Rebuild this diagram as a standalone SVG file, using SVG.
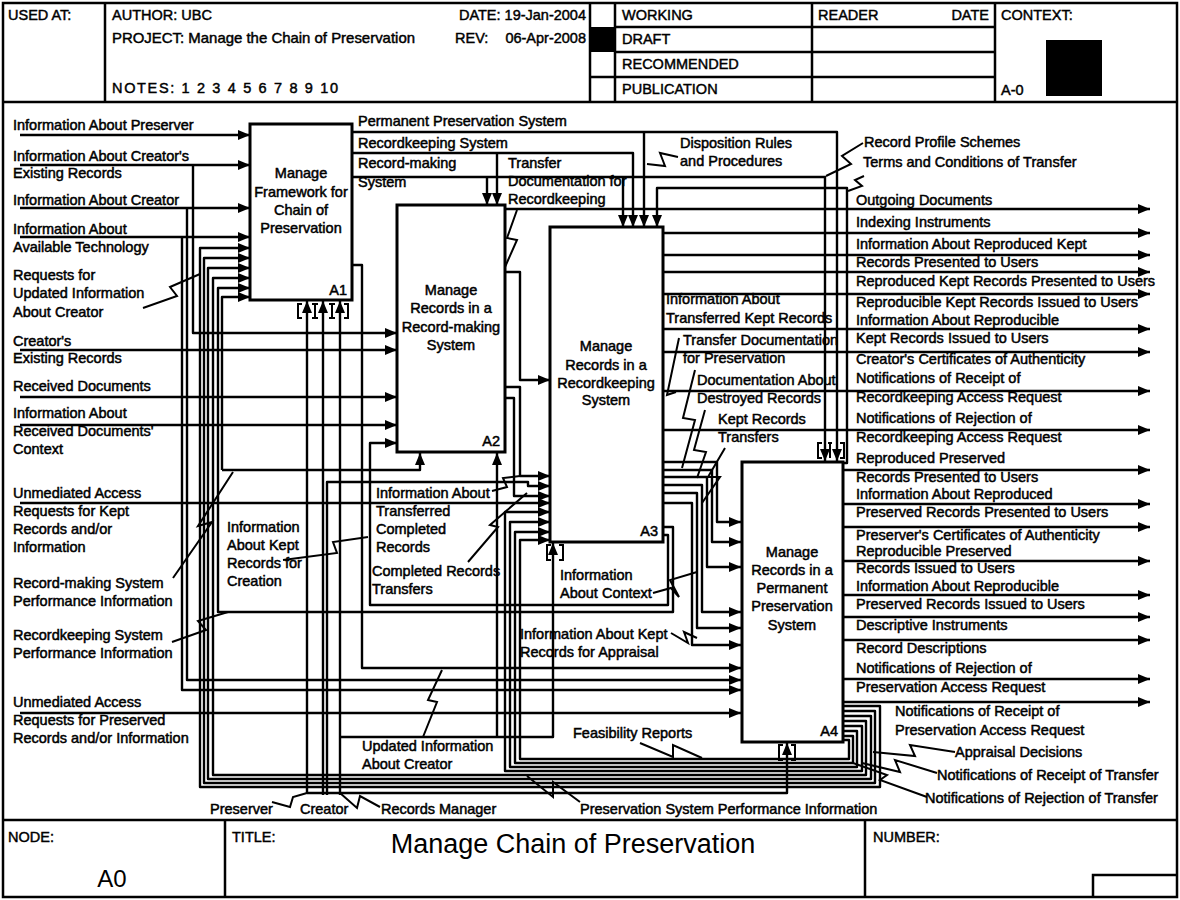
<svg xmlns="http://www.w3.org/2000/svg" width="1180" height="900" viewBox="0 0 1180 900">
<style>
text{font-family:"Liberation Sans",Arial,sans-serif;fill:#000}
.t{font-size:14.5px;stroke:#000;stroke-width:0.5}
.h{font-size:14.5px;stroke:#000;stroke-width:0.45}
.m{text-anchor:middle}
.e{text-anchor:end}
.box{fill:#fff;stroke:#000;stroke-width:3}
.c path{fill:none;stroke:#000;stroke-width:2.4;stroke-linejoin:round}
.c path.a{marker-end:url(#ah)}
.sq path{fill:none;stroke:#000;stroke-width:2}
.br path{fill:none;stroke:#000;stroke-width:2}
.fr{fill:none;stroke:#000;stroke-width:2.5}
</style>
<defs>
<marker id="ah" viewBox="0 0 12 10" refX="12" refY="5" markerWidth="12" markerHeight="10" markerUnits="userSpaceOnUse" orient="auto"><path d="M0,0 L12,5 L0,10 z" fill="#000"/></marker>
</defs>
<rect x="0" y="0" width="1180" height="900" fill="#fff"/>
<g id="frame">
<rect class="fr" x="3" y="3" width="1174" height="894" stroke-width="3"/>
<path class="fr" d="M3,102 H1177 M105,3 V102 M590,3 V102 M615,3 V102 M812,3 V102 M995,3 V102 M615,27 H995 M615,52 H995 M590,77 H995 M3,820 H1177 M225,820 V897 M865,820 V897 M1093,897 V875 H1177"/>
<rect x="591" y="27" width="24" height="25" fill="#000"/>
<rect x="1046" y="40" width="56" height="56" fill="#000"/>
<text class="h" x="8" y="20">USED AT:</text>
<text class="h" x="112" y="20">AUTHOR:  UBC</text>
<text class="h e" x="586" y="20">DATE:  19-Jan-2004</text>
<text class="h" x="112" y="43" textLength="303" lengthAdjust="spacingAndGlyphs">PROJECT:  Manage the Chain of Preservation</text>
<text class="h" x="455" y="43">REV:</text>
<text class="h e" x="586" y="43">06-Apr-2008</text>
<text class="h" x="112" y="93" textLength="226" lengthAdjust="spacing">NOTES:  1 2 3 4 5 6 7 8 9 10</text>
<text class="h" x="622" y="20">WORKING</text>
<text class="h" x="622" y="44">DRAFT</text>
<text class="h" x="622" y="69">RECOMMENDED</text>
<text class="h" x="622" y="94">PUBLICATION</text>
<text class="h" x="818" y="20">READER</text>
<text class="h e" x="989" y="20">DATE</text>
<text class="h" x="1001" y="20">CONTEXT:</text>
<text class="h" x="1001" y="95">A-0</text>
<text class="h" x="8" y="842">NODE:</text>
<text class="h" x="232" y="842">TITLE:</text>
<text class="h" x="873" y="842">NUMBER:</text>
<text class="m" x="573" y="853" font-size="27">Manage Chain of Preservation</text>
<text class="m" x="112" y="887" font-size="24">A0</text>
</g>
<g class="c" id="connectors">
<path class="a" d="M20,135 H250"/>
<path class="a" d="M20,165 H250"/>
<path class="a" d="M193,165 V333 H397"/>
<path class="a" d="M20,208 H250"/>
<path class="a" d="M187,208 V680 H741"/>
<path class="a" d="M20,237 H250"/>
<path class="a" d="M182,237 V690 H741"/>
<path class="a" d="M843,706 H880 V787 H200 V248 H250"/>
<path class="a" d="M843,711 H875 V783 H204 V258 H250"/>
<path class="a" d="M843,716 H871 V779 H208 V268 H250"/>
<path class="a" d="M843,721 H866 V775 H213 V278 H250"/>
<path class="a" d="M843,726 H862 V771 H505 V512 H550"/>
<path class="a" d="M843,731 H857 V767 H510 V522 H550"/>
<path class="a" d="M843,736 H853 V763 H515 V532 H550"/>
<path class="a" d="M843,740 H849 V759 H520 V540 H550"/>
<path class="a" d="M663,527 H673 V612 H218 V288 H250"/>
<path class="a" d="M222,470 V297 H250"/>
<path class="a" d="M222,470 H420 V453"/>
<path class="a" d="M327,795 V482 H528 V486 H550"/>
<path class="a" d="M307,793 V301"/>
<path class="a" d="M307,793 H787 V743"/>
<path class="a" d="M323,795 V301"/>
<path class="a" d="M340,795 V301"/>
<path class="a" d="M340,737 H553 V543"/>
<path class="a" d="M497,737 V453"/>
<path class="a" d="M20,350 H397"/>
<path class="a" d="M20,397 H397"/>
<path class="a" d="M20,425 H397"/>
<path class="a" d="M663,535 H668 V605 H370 V443 H397"/>
<path class="a" d="M352,132 H837 V461"/>
<path class="a" d="M644,132 V227"/>
<path class="a" d="M352,153 H633 V227"/>
<path class="a" d="M497,153 V205"/>
<path class="a" d="M352,177 H825 V461"/>
<path class="a" d="M487,177 V205"/>
<path class="a" d="M623,177 V227"/>
<path class="a" d="M843,463 H847 V188 H657 V227"/>
<path class="a" d="M505,209 H1150"/>
<path class="a" d="M505,272 H520 V380 H550"/>
<path class="a" d="M505,387 H520 V476 H550"/>
<path class="a" d="M505,398 H514 V496 H550"/>
<path class="a" d="M20,503 H550"/>
<path class="a" d="M663,233 H1150"/>
<path class="a" d="M663,255 H1150"/>
<path class="a" d="M663,272 H1150"/>
<path class="a" d="M663,294 H1150"/>
<path class="a" d="M663,329 H1150"/>
<path class="a" d="M663,352 H1150"/>
<path class="a" d="M663,391 H1150"/>
<path class="a" d="M663,430 H1150"/>
<path class="a" d="M663,462 H717 V522 H741"/>
<path class="a" d="M663,470 H712 V542 H741"/>
<path class="a" d="M663,477 H707 V567 H741"/>
<path class="a" d="M663,485 H702 V612 H741"/>
<path class="a" d="M663,493 H697 V628 H741"/>
<path class="a" d="M663,503 H692 V645 H741"/>
<path class="a" d="M352,265 H362 V668 H741"/>
<path class="a" d="M20,713 H741"/>
<path class="a" d="M843,470 H1150"/>
<path class="a" d="M843,504 H1150"/>
<path class="a" d="M843,527 H1150"/>
<path class="a" d="M843,561 H1150"/>
<path class="a" d="M843,595 H1150"/>
<path class="a" d="M843,617 H1150"/>
<path class="a" d="M843,640 H1150"/>
<path class="a" d="M843,679 H1150"/>
<path class="a" d="M843,702 H1150"/>
</g>
<g class="sq" id="squiggles">
<path d="M143,308 L177,296 L170,287 L200,274"/>
<path d="M173,578 L212,522 L198,526 L233,472"/>
<path d="M172,642 L206,630 L198,621 L228,612"/>
<path d="M678,157 L660,153 L665,166 L647,164"/>
<path d="M863,143 L842,156 L851,164 L826,176"/>
<path d="M864,176 L855,180 L862,186 L848,191"/>
<path d="M517,210 L507,238 L517,240 L505,267"/>
<path d="M679,338 L667,395 L676,392"/>
<path d="M695,370 L683,418 L695,420 L682,468"/>
<path d="M705,410 L694,450 L706,452 L697,478"/>
<path d="M725,448 L708,477 L720,477 L702,503"/>
<path d="M492,491 L507,487 L503,478 L520,476"/>
<path d="M468,562 L498,527 L490,525 L527,493"/>
<path d="M283,560 L337,553 L333,542 L368,537"/>
<path d="M653,593 L671,588 L679,597 L670,580 L697,572"/>
<path d="M671,633 L688,643 L684,632 L697,638"/>
<path d="M423,737 L437,702 L428,700 L442,670"/>
<path d="M640,743 L673,757 L673,745 L702,758"/>
<path d="M580,802 L553,782 L553,797 L527,776"/>
<path d="M272,802 L290,807 L293,797 L307,793"/>
<path d="M340,793 L357,808 L360,796 L380,807"/>
<path d="M955,752 L910,745 L915,756 L873,752"/>
<path d="M937,773 L895,760 L900,772 L862,763"/>
<path d="M927,797 L880,780 L887,775 L853,763"/>
</g>
<g class="br" id="tunnels">
<path d="M302,304 H298 V318 H302 M312,304 H318 M315,304 V318 M312,318 H318 M329,304 H335 M332,304 V318 M329,318 H335 M344,304 H348 V318 H344"/>
<path d="M551,545 H547 V560 H551 M559,545 H563 V560 H559"/>
<path d="M783,745 H779 V760 H783 M791,745 H795 V760 H791"/>
<path d="M822,443 H818 V458 H822 M828,443 H832 M830,443 V458 M840,443 H844 V458 H840"/>
</g>
<g id="A1">
<rect class="box" x="250" y="124" width="102" height="176"/>
<text class="t m" x="301" y="178">Manage</text>
<text class="t m" x="301" y="197">Framework for</text>
<text class="t m" x="301" y="215">Chain of</text>
<text class="t m" x="301" y="233">Preservation</text>
<text class="t e" x="347" y="295">A1</text>
</g>
<g id="A2">
<rect class="box" x="397" y="205" width="108" height="247"/>
<text class="t m" x="451" y="295">Manage</text>
<text class="t m" x="451" y="313">Records in a</text>
<text class="t m" x="451" y="332">Record-making</text>
<text class="t m" x="451" y="350">System</text>
<text class="t e" x="500" y="446">A2</text>
</g>
<g id="A3">
<rect class="box" x="550" y="227" width="113" height="315"/>
<text class="t m" x="606" y="351">Manage</text>
<text class="t m" x="606" y="370">Records in a</text>
<text class="t m" x="606" y="388">Recordkeeping</text>
<text class="t m" x="606" y="405">System</text>
<text class="t e" x="658" y="536">A3</text>
</g>
<g id="A4">
<rect class="box" x="742" y="462" width="101" height="280"/>
<text class="t m" x="792" y="557">Manage</text>
<text class="t m" x="792" y="575">Records in a</text>
<text class="t m" x="792" y="593">Permanent</text>
<text class="t m" x="792" y="611">Preservation</text>
<text class="t m" x="792" y="630">System</text>
<text class="t e" x="838" y="736">A4</text>
</g>
<g id="labels">
<text class="t" x="13" y="130">Information About Preserver</text>
<text class="t" x="13" y="161">Information About Creator's</text>
<text class="t" x="13" y="178">Existing Records</text>
<text class="t" x="13" y="205">Information About Creator</text>
<text class="t" x="13" y="234">Information About</text>
<text class="t" x="13" y="252">Available Technology</text>
<text class="t" x="13" y="280">Requests for</text>
<text class="t" x="13" y="298">Updated Information</text>
<text class="t" x="13" y="317">About Creator</text>
<text class="t" x="13" y="346">Creator's</text>
<text class="t" x="13" y="363">Existing Records</text>
<text class="t" x="13" y="391">Received Documents</text>
<text class="t" x="13" y="418">Information About</text>
<text class="t" x="13" y="436">Received Documents'</text>
<text class="t" x="13" y="454">Context</text>
<text class="t" x="13" y="498">Unmediated Access</text>
<text class="t" x="13" y="516">Requests for Kept</text>
<text class="t" x="13" y="534">Records and/or</text>
<text class="t" x="13" y="552">Information</text>
<text class="t" x="13" y="588">Record-making System</text>
<text class="t" x="13" y="606">Performance Information</text>
<text class="t" x="13" y="640">Recordkeeping System</text>
<text class="t" x="13" y="658">Performance Information</text>
<text class="t" x="13" y="707">Unmediated Access</text>
<text class="t" x="13" y="725">Requests for Preserved</text>
<text class="t" x="13" y="743">Records and/or Information</text>
<text class="t" x="358" y="126">Permanent Preservation System</text>
<text class="t" x="358" y="148">Recordkeeping System</text>
<text class="t" x="358" y="168">Record-making</text>
<text class="t" x="358" y="187">System</text>
<text class="t" x="508" y="168">Transfer</text>
<text class="t" x="508" y="186">Documentation for</text>
<text class="t" x="508" y="204">Recordkeeping</text>
<text class="t" x="680" y="148">Disposition Rules</text>
<text class="t" x="680" y="166">and Procedures</text>
<text class="t" x="864" y="147">Record Profile Schemes</text>
<text class="t" x="863" y="167">Terms and Conditions of Transfer</text>
<text class="t" x="856" y="205">Outgoing Documents</text>
<text class="t" x="856" y="227">Indexing Instruments</text>
<text class="t" x="856" y="249">Information About Reproduced Kept</text>
<text class="t" x="856" y="267">Records Presented to Users</text>
<text class="t" x="856" y="286">Reproduced Kept Records Presented to Users</text>
<text class="t" x="856" y="307">Reproducible Kept Records Issued to Users</text>
<text class="t" x="856" y="325">Information About Reproducible</text>
<text class="t" x="856" y="343">Kept Records Issued to Users</text>
<text class="t" x="856" y="364">Creator's Certificates of Authenticity</text>
<text class="t" x="856" y="383">Notifications of Receipt of</text>
<text class="t" x="856" y="402">Recordkeeping Access Request</text>
<text class="t" x="856" y="423">Notifications of Rejection of</text>
<text class="t" x="856" y="442">Recordkeeping Access Request</text>
<text class="t" x="856" y="463">Reproduced Preserved</text>
<text class="t" x="856" y="482">Records Presented to Users</text>
<text class="t" x="856" y="499">Information About Reproduced</text>
<text class="t" x="856" y="517">Preserved Records Presented to Users</text>
<text class="t" x="856" y="540">Preserver's Certificates of Authenticity</text>
<text class="t" x="856" y="556">Reproducible Preserved</text>
<text class="t" x="856" y="573">Records Issued to Users</text>
<text class="t" x="856" y="591">Information About Reproducible</text>
<text class="t" x="856" y="609">Preserved Records Issued to Users</text>
<text class="t" x="856" y="630">Descriptive Instruments</text>
<text class="t" x="856" y="653">Record Descriptions</text>
<text class="t" x="856" y="673">Notifications of Rejection of</text>
<text class="t" x="856" y="692">Preservation Access Request</text>
<text class="t" x="895" y="716">Notifications of Receipt of</text>
<text class="t" x="895" y="735">Preservation Access Request</text>
<text class="t" x="955" y="757">Appraisal Decisions</text>
<text class="t" x="937" y="780">Notifications of Receipt of Transfer</text>
<text class="t" x="925" y="803">Notifications of Rejection of Transfer</text>
<text class="t" x="666" y="304">Information About</text>
<text class="t" x="666" y="323">Transferred Kept Records</text>
<text class="t" x="683" y="345">Transfer Documentation</text>
<text class="t" x="683" y="363">for Preservation</text>
<text class="t" x="697" y="385">Documentation About</text>
<text class="t" x="697" y="403">Destroyed Records</text>
<text class="t" x="718" y="424">Kept Records</text>
<text class="t" x="718" y="442">Transfers</text>
<text class="t" x="376" y="498">Information About</text>
<text class="t" x="376" y="516">Transferred</text>
<text class="t" x="376" y="534">Completed</text>
<text class="t" x="376" y="552">Records</text>
<text class="t" x="227" y="532">Information</text>
<text class="t" x="227" y="550">About Kept</text>
<text class="t" x="227" y="568">Records for</text>
<text class="t" x="227" y="586">Creation</text>
<text class="t" x="372" y="576">Completed Records</text>
<text class="t" x="372" y="594">Transfers</text>
<text class="t" x="560" y="580">Information</text>
<text class="t" x="560" y="598">About Context</text>
<text class="t" x="520" y="639">Information About Kept</text>
<text class="t" x="520" y="657">Records for Appraisal</text>
<text class="t" x="573" y="738">Feasibility Reports</text>
<text class="t" x="362" y="751">Updated Information</text>
<text class="t" x="362" y="769">About Creator</text>
<text class="t" x="210" y="814">Preserver</text>
<text class="t" x="300" y="814">Creator</text>
<text class="t" x="381" y="814">Records Manager</text>
<text class="t" x="580" y="814">Preservation System Performance Information</text>
</g>
</svg>
